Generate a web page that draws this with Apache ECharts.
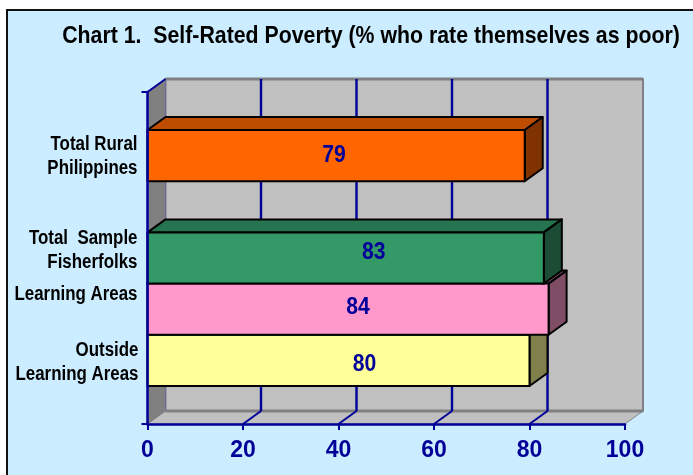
<!DOCTYPE html>
<html><head><meta charset="utf-8">
<style>html,body{margin:0;padding:0;background:#fff}#c{width:693px;height:475px}</style>
<script src="https://cdn.jsdelivr.net/npm/echarts@6/dist/echarts.min.js"></script>
</head><body><div id="c"></div>
<script>
// Data (bottom to top on the chart)
const categories = ['Outside\nLearning Areas', 'Learning Areas', 'Total  Sample\nFisherfolks', '', 'Total Rural\nPhilippines'];
const values = [80, 84, 83, null, 79];
const xTicks = [0, 20, 40, 60, 80, 100];

// Style
const titleText = 'Chart 1.  Self-Rated Poverty (% who rate themselves as poor)';
const BLUE = '#000099';
const FONT = '"Liberation Sans", Arial, sans-serif';
const DX = 18, DY = -13;
const frontColors = ['#FFFF99', '#FF99CC', '#339966', null, '#FF6600'];
const topColors = ['#BFBF73', '#BF7399', '#267350', null, '#BF4D00'];
const sideColors = ['#80804D', '#804D66', '#1A4D33', null, '#803300'];
const labelShift = [[26, 4], [10, -2], [28, -5], [0, 0], [-2, 0]];
const catShift = [[1, 2], [0, -15], [0, -8], [0, 0], [0, 0.5]];

const poly = (points, fill, stroke, lw) => ({
  type: 'polygon', shape: { points },
  style: { fill, stroke: stroke || 'none', lineWidth: lw || 0, lineJoin: 'round' }
});
const line = (a, b, stroke, lw) => ({
  type: 'line', shape: { x1: a[0], y1: a[1], x2: b[0], y2: b[1] },
  style: { stroke, lineWidth: lw }
});
const back = p => [p[0] + DX, p[1] + DY];

function renderWalls(params, api) {
  const tl = api.coord([0, 1]), bl = api.coord([0, 0]), br = api.coord([100, 0]), tr = api.coord([100, 1]);
  const kids = [
    poly([back(tl), back(tr), back(br), back(bl)], '#C0C0C0', '#808088', 2),
    poly([tl, back(tl), back(bl), bl], '#808080', '#6A6AA0', 1),
    poly([bl, back(bl), back(br), br], '#C0C0C0', '#808088', 1),
    line(back(bl), back(br), '#808080', 3),
    line(back(tl), back(tr), '#808080', 3),
    line(tl, back(tl), BLUE, 2)
  ];
  xTicks.slice(1, -1).forEach(v => {
    const f = api.coord([v, 0]), t = api.coord([v, 1]);
    kids.push(line(back(t), back(f), BLUE, 2.4));
    kids.push(line(f, back(f), BLUE, 2));
  });
  return { type: 'group', children: kids };
}

function renderBar(params, api) {
  const i = api.value(0), v = api.value(1);
  if (v == null || isNaN(v)) return null;
  const s = api.size([0, 1])[1];
  const c0 = api.coord([0, i]), c1 = api.coord([v, i]);
  const y0 = c0[1] - s / 2, y1 = c0[1] + s / 2, x0 = c0[0], x1 = c1[0];
  const k = '#000', lw = 2;
  return {
    type: 'group',
    children: [
      poly([[x0, y0], [x1, y0], back([x1, y0]), back([x0, y0])], topColors[i], k, lw),
      poly([[x1, y0], back([x1, y0]), back([x1, y1]), [x1, y1]], sideColors[i], k, lw),
      poly([[x0, y0], [x1, y0], [x1, y1], [x0, y1]], frontColors[i], k, lw)
    ]
  };
}
function renderValueLabel(params, api) {
  const i = api.value(0), v = api.value(1);
  if (v == null || isNaN(v)) return null;
  const c0 = api.coord([0, i]), c1 = api.coord([v, i]);
  return {
    type: 'text',
    x: (c0[0] + c1[0]) / 2 + labelShift[i][0], y: c0[1] + labelShift[i][1],
    scaleX: 0.92,
    style: {
      x: 0, y: 0, text: String(v), fill: BLUE, align: 'center', verticalAlign: 'middle',
      font: 'bold 23px ' + FONT
    }
  };
}
function renderCategoryLabel(params, api) {
  const i = api.value(0);
  const c = api.coord([0, i]);
  return {
    type: 'text',
    x: c[0] - 10 + catShift[i][0], y: c[1] + catShift[i][1],
    scaleX: 0.845,
    style: {
      x: 0, y: 0, text: categories[i], fill: '#000', align: 'right', verticalAlign: 'middle',
      lineHeight: 24, font: 'bold 20px ' + FONT
    }
  };
}

const chart = echarts.init(document.getElementById('c'), null, { renderer: 'canvas' });
chart.setOption({
  animation: false,
  backgroundColor: '#CCECFF',
  grid: [
    { left: 147.5, right: 68, top: 92, bottom: 51 },
    { left: 147.5, right: 68, top: 130, bottom: 89 }
  ],
  xAxis: [
    {
      type: 'value', gridIndex: 0, min: 0, max: 100, interval: 20, z: 10,
      axisLine: { show: true, lineStyle: { color: BLUE, width: 2.5 } },
      axisTick: { show: true, length: 6, lineStyle: { color: BLUE, width: 2 } },
      axisLabel: { color: BLUE, fontFamily: FONT, fontWeight: 'bold', fontSize: 23, margin: 15, hideOverlap: false },
      splitLine: { show: false }
    },
    { type: 'value', gridIndex: 1, min: 0, max: 100, show: false }
  ],
  yAxis: [
    {
      type: 'value', gridIndex: 0, min: 0, max: 1, interval: 1, z: 10,
      axisLine: { show: true, onZero: false, lineStyle: { color: BLUE, width: 2.5 } },
      axisTick: { show: true, length: 6, lineStyle: { color: BLUE, width: 2 } },
      axisLabel: { show: false }, splitLine: { show: false }
    },
    {
      type: 'category', gridIndex: 1, data: categories,
      axisLine: { show: false }, axisTick: { show: false }, axisLabel: { show: false }
    }
  ],
  series: [
    { type: 'custom', name: 'walls', xAxisIndex: 0, yAxisIndex: 0, z: 1, silent: true, clip: false, renderItem: renderWalls, data: [[0, 0]] },
    { type: 'custom', name: 'bars', xAxisIndex: 1, yAxisIndex: 1, z: 2, clip: false, renderItem: renderBar,
      encode: { x: 1, y: 0 }, data: values.map((v, i) => [i, v]) },
    { type: 'custom', name: 'labels', xAxisIndex: 1, yAxisIndex: 1, z: 3, clip: false, renderItem: renderValueLabel,
      encode: { x: 1, y: 0 }, data: values.map((v, i) => [i, v]) },
    { type: 'custom', name: 'categoryLabels', xAxisIndex: 1, yAxisIndex: 1, z: 3, clip: false, renderItem: renderCategoryLabel,
      encode: { y: 0 }, data: categories.map((c, i) => [i, 0]) }
  ],
  graphic: [
    { type: 'rect', z: 100, shape: { x: 0, y: 0, width: 693, height: 9 }, style: { fill: '#fff' } },
    { type: 'rect', z: 100, shape: { x: 0, y: 0, width: 6, height: 475 }, style: { fill: '#fff' } },
    { type: 'rect', z: 101, shape: { x: 6, y: 9, width: 687, height: 2 }, style: { fill: '#111' } },
    { type: 'rect', z: 101, shape: { x: 6, y: 9, width: 2, height: 466 }, style: { fill: '#111' } },
    { type: 'text', z: 102, x: 371, y: 36, scaleX: 0.887,
      style: { x: 0, y: 0, text: titleText, fill: '#000', align: 'center', verticalAlign: 'middle', font: 'bold 24px ' + FONT } }
  ]
});
</script></body></html>
